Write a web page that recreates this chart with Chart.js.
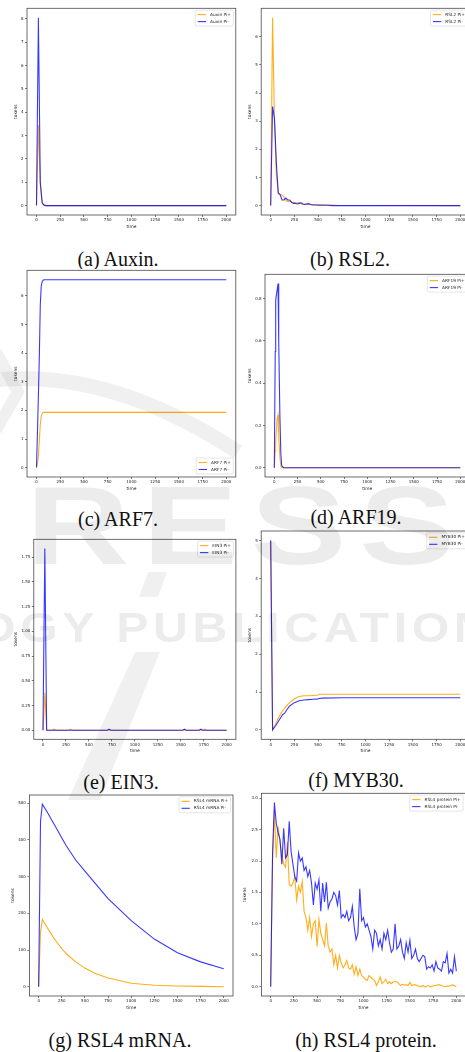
<!DOCTYPE html>
<html>
<head>
<meta charset="utf-8">
<title>Pi+ / Pi- token simulations</title>
<script src="https://cdn.jsdelivr.net/npm/chart.js@4.4.1/dist/chart.umd.min.js"></script>
<style>
  html, body { margin: 0; padding: 0; background: #fff; }
  body { position: relative; width: 465px; height: 1052px; overflow: hidden; }
  .panel { position: absolute; background: #fff; }
  .caption { position: absolute; font-family: "Liberation Serif", "Times New Roman", serif; font-size: 20px; line-height: 20px; color: #111; white-space: nowrap; transform: translateX(-50%); }
  .wm { position: absolute; font-family: "Liberation Sans", Arial, sans-serif; font-weight: bold; color: rgba(0,0,0,0.075); white-space: nowrap; pointer-events: none; z-index: 5; transform-origin: 0 0; }
  #wmShapes { position: absolute; left: 0; top: 0; z-index: 5; pointer-events: none; }
</style>
</head>
<body>
<div class="caption" style="left:118px; top:249px">(a) Auxin.</div>
<div class="caption" style="left:350px; top:249px">(b) RSL2.</div>
<div class="caption" style="left:118px; top:509px">(c) ARF7.</div>
<div class="caption" style="left:356px; top:507px">(d) ARF19.</div>
<div class="caption" style="left:121px; top:772px">(e) EIN3.</div>
<div class="caption" style="left:356px; top:770px">(f) MYB30.</div>
<div class="caption" style="left:120px; top:1030px">(g) RSL4 mRNA.</div>
<div class="caption" style="left:366px; top:1030px">(h) RSL4 protein.</div>

<!-- faint publisher watermark over the page -->
<div class="wm" style="left:26px; top:470px; font-size:112px; line-height:112px; letter-spacing:10px; transform:scaleX(1.28)">RESS</div>
<div class="wm" style="left:-22px; top:607px; font-size:42px; line-height:42px; letter-spacing:4px; transform:scaleX(1.15)">OGY PUBLICATIONS</div>
<svg id="wmShapes" width="465" height="1052">
  <path d="M -6 380 Q 110 368 238 452" fill="none" stroke="rgba(0,0,0,0.06)" stroke-width="15"/>
  <path d="M -4 352 L 18 392 L -4 430" fill="none" stroke="rgba(0,0,0,0.06)" stroke-width="12"/>
  <polygon points="135,652 160,652 100,800 68,800" fill="rgba(0,0,0,0.06)"/>
  <polygon points="148,572 167,572 158,597 139,597" fill="rgba(0,0,0,0.06)"/>
</svg>

<script>
// tick labels shared by every panel
const timeTicks = ['0', '250', '500', '750', '1000', '1250', '1500', '1750', '2000'];

// (a) Auxin
const auxinTime = [0, 20, 40, 60, 80, 100, 2000];
const auxinPlus = [0, 3.45, 0.9, 0.1, 0.02, 0, 0];
const auxinMinus = [0, 8.05, 1.0, 0.12, 0.02, 0, 0];
const auxinTicks = ['0', '1', '2', '3', '4', '5', '6', '7', '8'];

// (b) RSL2
const rsl2Time = [0, 20, 40, 60, 80, 100, 120, 140, 160, 180, 200, 220, 240, 260, 280, 300, 320, 340, 360, 380, 400, 420, 440, 460, 480, 500, 550, 600, 650, 700, 2000];
const rsl2Plus = [0, 6.68, 3.0, 1.1, 0.45, 0.4, 0.38, 0.3, 0.18, 0.15, 0.15, 0.12, 0.12, 0.1, 0.1, 0.11, 0.07, 0.05, 0.05, 0.06, 0.05, 0.04, 0.04, 0.04, 0.03, 0.04, 0.03, 0.02, 0.02, 0.01, 0];
const rsl2Minus = [0, 3.52, 3.1, 1.5, 0.45, 0.38, 0.2, 0.2, 0.27, 0.2, 0.2, 0.12, 0.08, 0.08, 0.06, 0.08, 0.1, 0.06, 0.04, 0.06, 0.07, 0.04, 0.02, 0.02, 0.02, 0.01, 0.01, 0.01, 0, 0, 0];
const rsl2Ticks = ['0', '1', '2', '3', '4', '5', '6'];

// (c) ARF7
const arf7Time = [0, 10, 20, 30, 40, 50, 60, 70, 80, 100, 2000];
const arf7Plus = [0, 0.15, 0.4, 0.95, 1.5, 1.8, 1.9, 1.93, 1.93, 1.93, 1.93];
const arf7Minus = [0, 1.2, 2.5, 3.9, 5.7, 6.35, 6.5, 6.55, 6.57, 6.57, 6.57];
const arf7Ticks = ['0', '1', '2', '3', '4', '5', '6'];

// (d) ARF19
const arf19Time = [0, 10, 15, 20, 30, 40, 45, 50, 60, 70, 80, 100, 2000];
const arf19Plus = [0, 0.08, 0.12, 0.16, 0.23, 0.25, 0.22, 0.15, 0.05, 0.01, 0, 0, 0];
const arf19Minus = [0, 0.55, 0.79, 0.81, 0.84, 0.872, 0.8, 0.6, 0.25, 0.07, 0.01, 0, 0];
const arf19Ticks = ['0.0', '0.2', '0.4', '0.6', '0.8'];

// (e) EIN3
const ein3Time = [0, 20, 40, 100, 120, 140, 280, 300, 320, 700, 720, 740, 1520, 1540, 1560, 1700, 1720, 1740, 1760, 1780, 2000];
const ein3Plus = [0, 0.38, 0, 0, 0.01, 0, 0, 0.01, 0, 0, 0, 0, 0, 0, 0, 0, 0, 0, 0.01, 0, 0];
const ein3Minus = [0, 1.84, 0, 0, 0, 0, 0, 0, 0, 0, 0.01, 0, 0, 0.01, 0, 0, 0.01, 0, 0, 0, 0];
const ein3Ticks = ['0.00', '0.25', '0.50', '0.75', '1.00', '1.25', '1.50', '1.75'];

// (f) MYB30
const myb30Time = [0, 20, 50, 75, 100, 125, 150, 175, 200, 250, 300, 350, 400, 450, 500, 510, 550, 750, 1000, 1500, 2000];
const myb30Plus = [5.01, 0, 0.15, 0.28, 0.4, 0.5, 0.58, 0.66, 0.72, 0.82, 0.88, 0.9, 0.9, 0.91, 0.92, 0.94, 0.94, 0.94, 0.94, 0.94, 0.94];
const myb30Minus = [5.01, 0, 0.1, 0.2, 0.3, 0.4, 0.45, 0.55, 0.63, 0.72, 0.77, 0.79, 0.8, 0.81, 0.82, 0.83, 0.84, 0.85, 0.85, 0.85, 0.85];
const myb30Ticks = ['0', '1', '2', '3', '4', '5'];

// (g) RSL4 mRNA
const mrnaTime = [0, 20, 40, 100, 150, 200, 250, 300, 400, 500, 600, 750, 1000, 1250, 1500, 1750, 2000];
const mrnaPlus = [0, 150, 183, 158, 138, 120, 104, 90, 68, 51, 38, 24, 10, 4.5, 2.5, 1.2, 0.5];
const mrnaMinus = [0, 450, 497, 472, 450, 428, 405, 383, 345, 315, 285, 240, 180, 130, 93, 68, 49];
const mrnaTicks = ['0', '100', '200', '300', '400', '500'];

// (h) RSL4 protein
const protTime = [0, 20, 40, 60, 80, 100, 120, 140, 160, 180, 200, 220, 240, 260, 280, 300, 320, 340, 360, 380,
  400, 420, 440, 460, 480, 500, 520, 540, 560, 580, 600, 620, 640, 660, 680, 700, 720, 740, 760, 780,
  800, 820, 840, 860, 880, 900, 920, 940, 960, 980, 1000, 1020, 1040, 1060, 1080, 1100, 1120, 1140, 1160, 1180,
  1200, 1220, 1240, 1260, 1280, 1300, 1320, 1340, 1360, 1380, 1400, 1420, 1440, 1460, 1480, 1500, 1520, 1540, 1560, 1580,
  1600, 1620, 1640, 1660, 1680, 1700, 1720, 1740, 1760, 1780, 1800, 1820, 1840, 1860, 1880, 1900, 1920, 1940, 1960, 1980, 2000];
const protPlus = [0, 2.0, 2.8, 2.05, 2.55, 2.3, 2.1, 1.95, 1.9, 2.3, 1.62, 1.6, 1.65, 1.75, 1.38, 1.6, 1.5, 1.67, 1.2, 1.1,
  0.9, 1.1, 0.8, 1.0, 1.05, 0.64, 1.07, 0.85, 0.75, 0.65, 1.01, 0.65, 0.55, 0.6, 0.35, 0.5, 0.3, 0.5, 0.38, 0.3,
  0.35, 0.42, 0.3, 0.28, 0.35, 0.2, 0.32, 0.18, 0.28, 0.18, 0.15, 0.12, 0.1, 0.18, 0.15, 0.12, 0.1, 0.02, 0.08, 0.16,
  0.05, 0.08, 0.12, 0.05, 0.08, 0.05, 0.08, 0.08, 0.08, 0.05, 0.02, 0.04, 0.03, 0.03, 0.02, 0.07, 0.02, 0.03, 0.03, 0.02,
  0.01, 0, 0.02, 0, 0.01, 0.02, 0, 0.01, 0.02, 0.02, 0.03, 0.03, 0.02, 0.01, 0, 0.01, 0.01, 0.02, 0.03, 0.02, 0];
const protMinus = [0, 2.1, 2.93, 2.6, 2.45, 2.35, 1.95, 2.52, 2.05, 2.1, 2.63, 2.15, 1.95, 1.75, 1.68, 2.13, 2.0, 2.05, 1.85, 1.91,
  1.75, 1.85, 1.65, 1.3, 1.65, 1.55, 1.7, 1.2, 1.65, 1.35, 1.66, 1.25, 1.35, 1.4, 1.5, 1.45, 1.3, 1.53, 1.1, 1.15,
  1.1, 1.2, 1.05, 1.1, 1.28, 0.95, 0.75, 0.85, 1.56, 1.05, 1.1, 0.95, 1.0, 0.9, 0.8, 0.6, 0.9, 0.85, 0.65, 0.75,
  0.6, 0.85, 0.75, 0.9, 0.7, 0.55, 0.6, 1.0, 0.6, 0.65, 0.75, 0.55, 0.45, 0.7, 0.55, 0.74, 0.45, 0.5, 0.6, 0.45,
  0.4, 0.45, 0.5, 0.48, 0.28, 0.32, 0.3, 0.35, 0.25, 0.4, 0.3, 0.28, 0.25, 0.4, 0.38, 0.53, 0.22, 0.28, 0.22, 0.48, 0.25];
const protTicks = ['0.0', '0.5', '1.0', '1.5', '2.0', '2.5', '3.0'];

const ORANGE = 'rgba(255,165,0,0.9)';
const BLUE = 'rgba(0,0,255,0.78)';
const tickFont = { family: 'DejaVu Sans', size: 4, lineHeight: 1.2 };
const titleFont = { family: 'DejaVu Sans', size: 4.4, lineHeight: 1.2 };

// axes box on the page (left, top, right, bottom), label gaps, legend corner
const panels = [
  { name: 'Auxin', time: auxinTime, plus: auxinPlus, minus: auxinMinus, yTicks: auxinTicks, box: [27, 8.3, 235.8, 215], yGap: 11.3, xGap: 12.3, legend: 'ur' },
  { name: 'RSL2', time: rsl2Time, plus: rsl2Plus, minus: rsl2Minus, yTicks: rsl2Ticks, box: [261.2, 8.3, 469.8, 215], yGap: 10.9, xGap: 12.3, legend: 'ur' },
  { name: 'ARF7', time: arf7Time, plus: arf7Plus, minus: arf7Minus, yTicks: arf7Ticks, box: [27, 270.3, 235.8, 477], yGap: 11.3, xGap: 12.3, legend: 'lr' },
  { name: 'ARF19', time: arf19Time, plus: arf19Plus, minus: arf19Minus, yTicks: arf19Ticks, box: [265, 274.3, 469.6, 477], yGap: 14.7, xGap: 12.3, legend: 'ur' },
  { name: 'EIN3', time: ein3Time, plus: ein3Plus, minus: ein3Minus, yTicks: ein3Ticks, box: [33.8, 539.3, 235.9, 739.3], yGap: 18.1, xGap: 11.7, legend: 'ur' },
  { name: 'MYB30', time: myb30Time, plus: myb30Plus, minus: myb30Minus, yTicks: myb30Ticks, box: [261.2, 531, 469.8, 739.3], yGap: 10.9, xGap: 11.7, legend: 'ur' },
  { name: 'RSL4 mRNA', time: mrnaTime, plus: mrnaPlus, minus: mrnaMinus, yTicks: mrnaTicks, box: [29.4, 795, 233, 996], yGap: 16.1, xGap: 12.3, legend: 'ur' },
  { name: 'RSL4 protein', time: protTime, plus: protPlus, minus: protMinus, yTicks: protTicks, box: [261.4, 793.3, 465.6, 996], yGap: 16.1, xGap: 12.3, legend: 'ur' }
];

// matplotlib style: 5% margin around the data
function padded(values) {
  const lo = Math.min(...values), hi = Math.max(...values);
  const m = (hi - lo) * 0.05;
  return [lo - m, hi + m];
}

// full box around the axes + legend in a corner of the axes
const frameAndLegend = {
  id: 'frameAndLegend',
  afterDatasetsDraw(chart, args, opts) {
    const { ctx, chartArea: a } = chart;
    ctx.save();
    ctx.strokeStyle = '#4a4a4a';
    ctx.lineWidth = 0.8;
    ctx.strokeRect(a.left, a.top, a.right - a.left, a.bottom - a.top);

    ctx.font = '4.3px "DejaVu Sans"';
    const items = chart.data.datasets;
    const tw = Math.max(...items.map(d => ctx.measureText(d.label).width));
    const w = 2.5 + 8.3 + 4 + tw + 2.5;
    const h = items.length * 7 + 2;
    const x = a.right - 2.5 - w;
    const y = opts.corner === 'lr' ? a.bottom - 3 - h : a.top + 1.8;
    ctx.beginPath();
    ctx.roundRect(x, y, w, h, 1.2);
    ctx.fillStyle = 'rgba(255,255,255,0.85)';
    ctx.fill();
    ctx.strokeStyle = '#d4d4d4';
    ctx.lineWidth = 0.6;
    ctx.stroke();
    items.forEach((d, i) => {
      const cy = y + 1 + 3.5 + i * 7;
      ctx.strokeStyle = d.borderColor;
      ctx.lineWidth = 1.1;
      ctx.beginPath();
      ctx.moveTo(x + 2.5, cy);
      ctx.lineTo(x + 10.8, cy);
      ctx.stroke();
      ctx.fillStyle = '#222';
      ctx.textBaseline = 'middle';
      ctx.fillText(d.label, x + 14.8, cy);
    });
    ctx.restore();
  }
};

function addPanel(p) {
  const [l, t, r, b] = p.box;
  const half = titleFont.size * titleFont.lineHeight / 2;
  const yw = p.yGap + half, xh = p.xGap + half;
  const left = Math.floor(l - yw), top = Math.floor(t - 1);
  const right = Math.ceil(r + 2), bottom = Math.ceil(b + xh);

  const div = document.createElement('div');
  div.className = 'panel';
  div.style.left = left + 'px';
  div.style.top = top + 'px';
  div.style.width = (right - left) + 'px';
  div.style.height = (bottom - top) + 'px';
  const canvas = document.createElement('canvas');
  div.appendChild(canvas);
  document.body.appendChild(div);

  const [xmin, xmax] = padded(p.time);
  const [ymin, ymax] = padded(p.plus.concat(p.minus));
  const pts = vals => p.time.map((x, i) => ({ x: x, y: vals[i] }));

  new Chart(canvas, {
    type: 'line',
    data: {
      datasets: [
        { label: p.name + ' Pi+', data: pts(p.plus), borderColor: ORANGE, order: 1 },
        { label: p.name + ' Pi-', data: pts(p.minus), borderColor: BLUE, order: 0 }
      ]
    },
    options: {
      responsive: true,
      maintainAspectRatio: false,
      animation: false,
      layout: { padding: { left: l - yw - left, top: t - top, right: right - r, bottom: bottom - (b + xh) } },
      elements: { point: { radius: 0 }, line: { borderWidth: 1.1, tension: 0 } },
      plugins: {
        legend: { display: false },
        tooltip: { enabled: false },
        frameAndLegend: { corner: p.legend }
      },
      scales: {
        x: {
          type: 'linear',
          min: xmin,
          max: xmax,
          afterBuildTicks: s => { s.ticks = timeTicks.map(v => ({ value: parseFloat(v) })); },
          afterFit: s => { s.height = xh; s.paddingLeft = 0; s.paddingRight = 0; },
          ticks: { autoSkip: false, maxRotation: 0, minRotation: 0, padding: 1, font: tickFont, color: '#222',
            callback: (v, i) => timeTicks[i] },
          grid: { drawOnChartArea: false, tickLength: 2, color: '#444', lineWidth: 0.7 },
          border: { display: false },
          title: { display: true, text: 'time', font: titleFont, color: '#222', padding: 0 }
        },
        y: {
          type: 'linear',
          min: ymin,
          max: ymax,
          afterBuildTicks: s => { s.ticks = p.yTicks.map(v => ({ value: parseFloat(v) })); },
          afterFit: s => { s.width = yw; s.paddingTop = 0; s.paddingBottom = 0; },
          ticks: { autoSkip: false, padding: 1.5, font: tickFont, color: '#222',
            callback: (v, i) => p.yTicks[i] },
          grid: { drawOnChartArea: false, tickLength: 2, color: '#444', lineWidth: 0.7 },
          border: { display: false },
          title: { display: true, text: 'tokens', font: titleFont, color: '#222', padding: 0 }
        }
      }
    },
    plugins: [frameAndLegend]
  });
}

panels.forEach(addPanel);
</script>
</body>
</html>
